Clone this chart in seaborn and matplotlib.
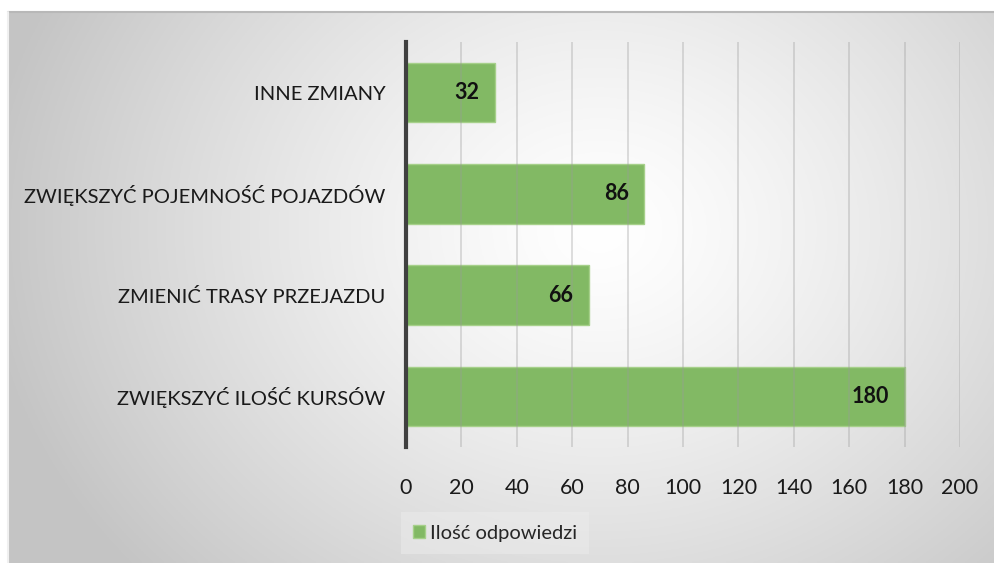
import numpy as np
import matplotlib
matplotlib.use("Agg")
import matplotlib.pyplot as plt
import seaborn as sns
import pandas as pd

categories = ["INNE ZMIANY", "ZWIĘKSZYĆ POJEMNOŚĆ POJAZDÓW", "ZMIENIĆ TRASY PRZEJAZDU", "ZWIĘKSZYĆ ILOŚĆ KURSÓW"]
values = [32, 86, 66, 180]
series_name = "Ilość odpowiedzi"
xticks = [0, 20, 40, 60, 80, 100, 120, 140, 160, 180, 200]

sns.set_style("white")
plt.rcParams['font.family'] = ['Lato', 'DejaVu Sans']

W, H = 995, 563
fig = plt.figure(figsize=(W / 100, H / 100), dpi=100)
fig.patch.set_facecolor("white")

# background gradient panel
bg = fig.add_axes([8 / W, 0, 1 - 8 / W, 1 - 12 / H], zorder=-10)
nx, ny = 400, 240
xx, yy = np.meshgrid(np.linspace(8, W, nx), np.linspace(12, H, ny))
cx, cy = 600, 230
r = np.sqrt(((xx - cx) / 620) ** 2 + ((yy - cy) / 520) ** 2)
r = np.clip(r, 0, 1)
v = 1.0 - (1.0 - 0.77) * r ** 1.3
img = np.dstack([v, v, v])
bg.imshow(img, aspect="auto", extent=[0, 1, 0, 1], origin="upper")
bg.set_axis_off()
bg.plot([0, 1], [1, 1], color="#b8b8b8", lw=1.5, transform=bg.transAxes, clip_on=False)
bg.plot([0, 0], [0, 1], color="#f0f0f0", lw=1.5, transform=bg.transAxes, clip_on=False)

ax = fig.add_axes([406 / W, 1 - 447 / H, (960 - 406) / W, (447 - 42) / H])
ax.patch.set_alpha(0)

df = pd.DataFrame({"cat": categories, "val": values})
sns.barplot(data=df, x="val", y="cat", orient="h", color="#82b964", saturation=1,
            width=0.59, edgecolor="#a6d08a", linewidth=1.0, ax=ax, zorder=2)

ax.set_xlim(0, 200)
ax.set_ylim(3.5, -0.5)
ax.set_xticks(xticks)
ax.set_xticklabels([str(t) for t in xticks])
ax.set_xlabel("")
ax.set_ylabel("")
for t in xticks[1:]:
    ax.axvline(t, color="#9a9a9a", lw=1.3, alpha=0.35, zorder=3)
for s in ["top", "right", "bottom"]:
    ax.spines[s].set_visible(False)
ax.spines["left"].set_color("#404040")
ax.spines["left"].set_linewidth(3)
ax.spines["left"].set_zorder(5)
ax.tick_params(axis="y", length=0, pad=15, labelsize=14.5, labelcolor="#1a1a1a")
ax.tick_params(axis="x", length=0, pad=22, labelsize=15.5, labelcolor="#1a1a1a")

for i, v in enumerate(values):
    ax.annotate(str(v), xy=(v, i), xytext=(-11, 0), textcoords="offset points",
                ha="right", va="center", fontsize=15.5, fontweight="bold", color="#111111", zorder=6)

from matplotlib.patches import Patch
handle = Patch(facecolor="#82b964", edgecolor="#a6d08a")
leg = fig.legend([handle], [series_name], loc="center", bbox_to_anchor=(495 / W, 1 - 533 / H),
                 frameon=True, fontsize=14.5, handlelength=0.6, handleheight=0.6, handletextpad=0.25,
                 borderpad=0.6, fancybox=False)
leg.get_frame().set_facecolor("#ececec")
leg.get_frame().set_edgecolor("none")
leg.get_frame().set_alpha(0.5)

fig.savefig("out.png", dpi=100)
